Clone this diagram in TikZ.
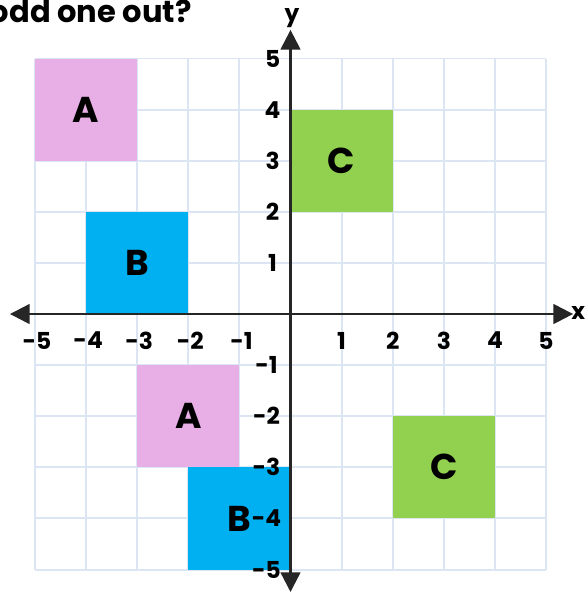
\documentclass[tikz,border=0pt]{standalone}
\usepackage{fontspec}
\setmainfont{Poppins}
\usetikzlibrary{arrows.meta}
\definecolor{gridblue}{HTML}{DCE5F4}
\definecolor{pinkA}{HTML}{E8AEE6}
\definecolor{blueB}{HTML}{00B0F0}
\definecolor{greenC}{HTML}{92D050}
\tikzset{
  gridline/.style={draw=gridblue, line width=1.1pt},
  axisline/.style={draw=black!85, line width=1.3pt},
  sq/.style={draw=none, minimum size=2cm, inner sep=0pt, font=\bfseries\fontsize{20}{22}\selectfont},
  num/.style={font=\bfseries\fontsize{13}{14}\selectfont, inner sep=0pt},
}
\begin{document}
\begin{tikzpicture}
\clip (-5.685,-5.479) rectangle (5.763,6.145);
\fill[white] (-5.685,-5.479) rectangle (5.763,6.145);
% title
\node[anchor=base east, font=\bfseries\fontsize{17}{19}\selectfont, inner sep=0pt] (title) at (-1.93,5.71) {odd one out?};
% grid
\foreach \i in {-5,...,5} {
  \draw[gridline] (\i,-5) -- (\i,5);
  \draw[gridline] (-5,\i) -- (5,\i);
}
% squares
\node[sq, fill=pinkA] (A1) at (-4,4) {A};
\node[sq, fill=blueB] (B1) at (-3,1) {B};
\node[sq, fill=greenC] (C1) at (1,3) {C};
\node[sq, fill=pinkA] (A2) at (-2,-2) {A};
\node[sq, fill=blueB] (B2) at (-1,-4) {B};
\node[sq, fill=greenC] (C2) at (3,-3) {C};
% axes
\coordinate (xl) at (-5.49,0);
\coordinate (xr) at (5.53,0);
\coordinate (yb) at (0,-5.44);
\coordinate (yt) at (0,5.56);
\draw[axisline, {Triangle[length=11pt,width=11pt]}-{Triangle[length=11pt,width=11pt]}] (xl) -- (xr);
\draw[axisline, {Triangle[length=11pt,width=11pt]}-{Triangle[length=11pt,width=11pt]}] (yb) -- (yt);
\node[font=\bfseries\fontsize{13}{14}\selectfont, inner sep=0pt] (xlab) at (5.63,0.02) {x};
\node[font=\bfseries\fontsize{13}{14}\selectfont, inner sep=0pt] (ylab) at (0.03,5.79) {y};
% axis numbers
\foreach \i in {1,...,5} {
  \node[num] at (\i,-0.52) {\i};
  \node[num] at (-\i+0.04,-0.52) {-\i};
  \node[num] at (-0.35,\i) {\i};
  \node[num] at (-0.47,-\i) {-\i};
}
\end{tikzpicture}
\end{document}
